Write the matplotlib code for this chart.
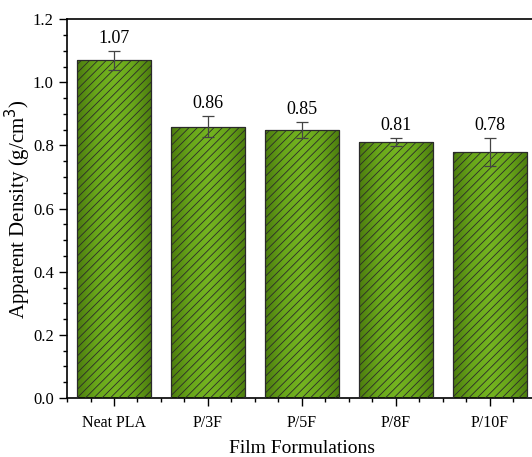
import numpy as np
import matplotlib.pyplot as plt
from matplotlib.colors import LinearSegmentedColormap
from matplotlib.ticker import MultipleLocator

plt.rcParams['font.family'] = ['Liberation Serif', 'DejaVu Serif']
plt.rcParams['hatch.linewidth'] = 0.6
plt.rcParams['hatch.color'] = '#1a2a05'

films = ['Neat PLA', 'P/3F', 'P/5F', 'P/8F', 'P/10F']
density = [1.07, 0.86, 0.85, 0.81, 0.78]
density_err = [0.03, 0.033, 0.025, 0.013, 0.044]

fig = plt.figure(figsize=(5.32, 4.57), dpi=100)
ax = fig.add_axes([0.126, 0.129, 0.883, 0.829])

x = np.arange(len(films))
width = 0.79

# green gradient, darker at the bar sides
green = LinearSegmentedColormap.from_list('bar_green', ['#4c7c0e', '#68a61a', '#74b420', '#68a61a', '#4c7c0e'])
grad = np.linspace(0, 1, 256).reshape(1, -1)

bars = ax.bar(x, density, width, color='none', edgecolor='#2a2a2a', linewidth=0.9,
              hatch='////', zorder=3)
for b in bars:
    im = ax.imshow(grad, cmap=green, aspect='auto', zorder=2,
                   extent=[b.get_x(), b.get_x() + b.get_width(), 0, b.get_height()])
    im.set_clip_path(b)

ax.errorbar(x, density, yerr=density_err, fmt='none', ecolor='#444444',
            elinewidth=0.9, capsize=4, capthick=0.9, zorder=4)

for xi, v, e in zip(x, density, density_err):
    ax.annotate(f'{v:.2f}', (xi, v + e), xytext=(0, 3), textcoords='offset points',
                ha='center', va='bottom', fontsize=13)

ax.set_xlim(-0.5, 4.5)
ax.set_ylim(0, 1.2)
ax.set_xticks(x)
ax.set_xticklabels(films, fontsize=11.5)
ax.xaxis.set_minor_locator(MultipleLocator(0.25))
ax.yaxis.set_major_locator(MultipleLocator(0.2))
ax.yaxis.set_minor_locator(MultipleLocator(0.05))
ax.tick_params(which='major', length=6, width=1)
ax.tick_params(axis='y', labelsize=12)
ax.tick_params(which='minor', length=3, width=1)
ax.tick_params(axis='x', which='major', pad=6)
for s in ax.spines.values():
    s.set_linewidth(1.2)

ax.set_xlabel('Film Formulations', fontsize=14, labelpad=7)
ax.set_ylabel('Apparent Density (g/cm$^3$)', fontsize=15)
ax.yaxis.set_label_coords(-0.073, 0.5)

fig.savefig('out.png', dpi=100)
